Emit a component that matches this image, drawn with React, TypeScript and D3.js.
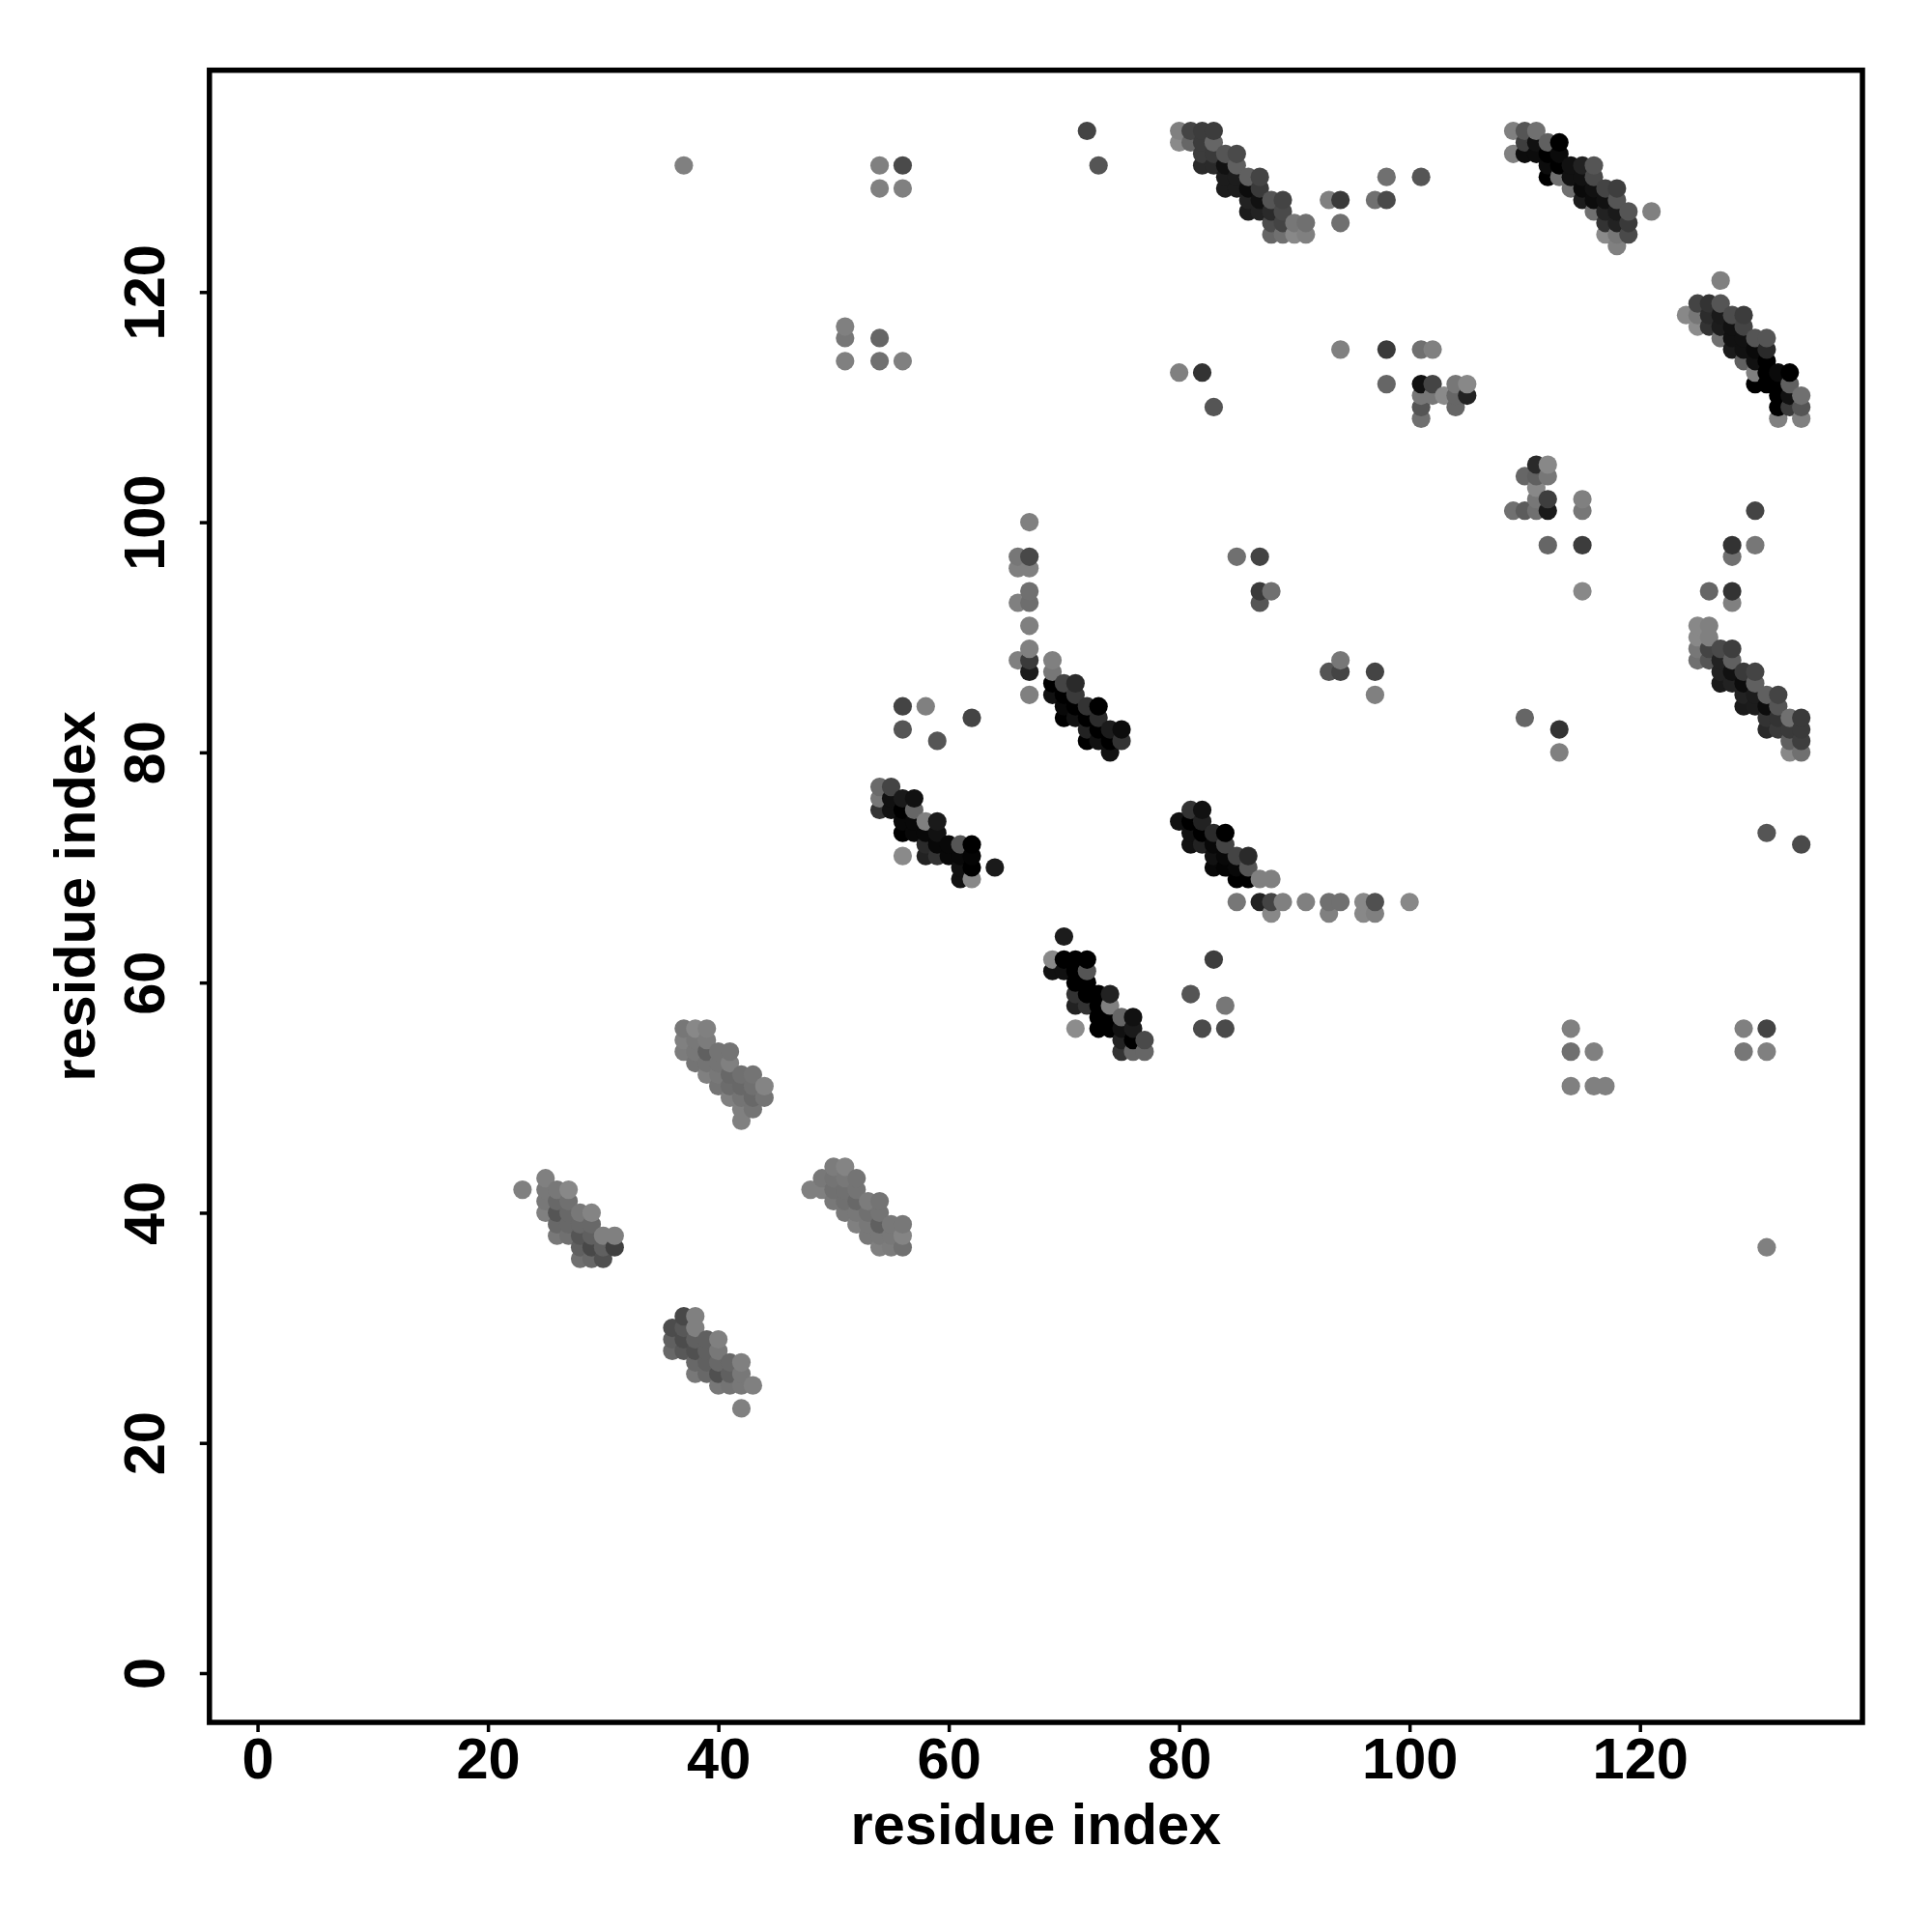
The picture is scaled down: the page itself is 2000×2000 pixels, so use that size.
import React, { useEffect, useRef } from "react";
import * as d3 from "d3";

type P = [number, number, number];
// [residue i, residue j, grey level]
const blockA: P[] = [
[37,56,0x77],[38,56,0x88],[39,56,0x80],[37,55,0x80],[38,55,0x78],[39,55,0x7c],[37,54,0x7c],[38,54,0x78],[39,54,0x60],[40,54,0x74],[41,54,0x74],
[38,53,0x74],[39,53,0x74],[40,53,0x74],[41,53,0x80],[39,52,0x80],[40,52,0x78],[41,52,0x68],[42,52,0x70],[43,52,0x74],[40,51,0x74],[41,51,0x6c],[42,51,0x68],[43,51,0x70],[44,51,0x84],
[41,50,0x80],[42,50,0x74],[43,50,0x68],[44,50,0x74],[42,49,0x80],[43,49,0x74],[42,48,0x80],
];
const blockB: P[] = [
[25,43,0x80],[23,42,0x80],[25,42,0x78],[26,42,0x78],[27,42,0x88],[25,41,0x78],[26,41,0x68],[27,41,0x70],[25,40,0x80],[26,40,0x55],[27,40,0x68],[28,40,0x78],[29,40,0x84],
[26,39,0x68],[27,39,0x68],[28,39,0x68],[29,39,0x68],[26,38,0x78],[27,38,0x70],[28,38,0x55],[29,38,0x60],[30,38,0x80],[31,38,0x80],
[28,37,0x60],[29,37,0x48],[30,37,0x60],[31,37,0x40],[28,36,0x70],[29,36,0x68],[30,36,0x50],
];
const blockC: P[] = [
[50,44,0x7c],[51,44,0x84],[49,43,0x78],[50,43,0x74],[51,43,0x78],[52,43,0x74],[48,42,0x80],[49,42,0x80],[50,42,0x70],[51,42,0x70],[52,42,0x74],
[50,41,0x78],[51,41,0x70],[52,41,0x68],[53,41,0x7c],[54,41,0x74],[51,40,0x78],[52,40,0x78],[53,40,0x70],[54,40,0x74],
[52,39,0x80],[53,39,0x78],[54,39,0x60],[55,39,0x78],[56,39,0x78],[53,38,0x78],[54,38,0x78],[55,38,0x78],[56,38,0x84],[54,37,0x80],[55,37,0x7c],[56,37,0x70],
];
const blockD: P[] = [
[37,31,0x48],[38,31,0x80],[36,30,0x4c],[37,30,0x58],[38,30,0x80],[36,29,0x60],[37,29,0x4c],[38,29,0x60],[39,29,0x60],[40,29,0x80],
[36,28,0x68],[37,28,0x58],[38,28,0x50],[39,28,0x60],[40,28,0x78],[38,27,0x68],[39,27,0x60],[40,27,0x68],[41,27,0x68],[42,27,0x80],
[38,26,0x78],[39,26,0x68],[40,26,0x50],[41,26,0x60],[42,26,0x78],[40,25,0x78],[41,25,0x74],[42,25,0x78],[43,25,0x80],[42,23,0x80],
];
const blockE: P[] = [
[54,77,0x6a],[55,77,0x44],[54,76,0x77],[55,76,0x11],[56,76,0x1a],[57,76,0x11],[54,75,0x33],[55,75,0x11],[56,75,0x00],[57,75,0x66],
[56,74,0x08],[57,74,0x08],[58,74,0x80],[59,74,0x1a],[56,73,0x00],[57,73,0x08],[58,73,0x08],[59,73,0x11],
[58,72,0x2a],[59,72,0x08],[60,72,0x08],[61,72,0x55],[62,72,0x00],[56,71,0x8a],[58,71,0x22],[59,71,0x33],[60,71,0x08],[61,71,0x08],[62,71,0x04],
[61,70,0x11],[62,70,0x00],[64,70,0x1a],[61,69,0x11],[62,69,0x88],
];
const blockF: P[] = [
[81,75,0x33],[82,75,0x11],[80,74,0x11],[81,74,0x00],[82,74,0x22],[81,73,0x11],[82,73,0x00],[83,73,0x2a],[84,73,0x00],[81,72,0x11],[82,72,0x22],[83,72,0x08],[84,72,0x44],
[83,71,0x11],[84,71,0x08],[85,71,0x44],[86,71,0x2a],[83,70,0x08],[84,70,0x04],[85,70,0x08],[86,70,0x55],[85,69,0x00],[86,69,0x00],[87,69,0x80],[88,69,0x80],
[85,67,0x77],[87,67,0x22],[88,67,0x44],[89,67,0x80],[91,67,0x80],[93,67,0x70],[94,67,0x70],[96,67,0x88],[97,67,0x50],[100,67,0x88],[88,66,0x88],[93,66,0x80],[96,66,0x88],[97,66,0x80],
];
const blockG: P[] = [
[70,64,0x1c],[69,62,0x88],[70,62,0x00],[71,62,0x00],[72,62,0x00],[69,61,0x11],[70,61,0x11],[71,61,0x00],[72,61,0x55],[71,60,0x00],[72,60,0x00],
[71,59,0x33],[72,59,0x00],[73,59,0x00],[74,59,0x22],[71,58,0x22],[72,58,0x33],[73,58,0x00],[74,58,0x80],[73,57,0x00],[74,57,0x00],[75,57,0x66],[76,57,0x11],
[71,56,0x8c],[73,56,0x00],[74,56,0x00],[75,56,0x11],[76,56,0x1a],[75,55,0x22],[76,55,0x00],[77,55,0x4a],[75,54,0x33],[76,54,0x66],[77,54,0x66],
[83,62,0x3e],[81,59,0x55],[84,58,0x77],[82,56,0x4a],[84,56,0x4a],
];
const blockH: P[] = [
[67,100,0x80],[66,97,0x77],[67,97,0x48],[66,96,0x80],[67,96,0x80],[67,94,0x70],[66,93,0x80],[67,93,0x6e],[67,91,0x80],[67,89,0x80],[66,88,0x80],[67,88,0x3a],[69,88,0x80],[67,87,0x1c],[69,87,0x77],[67,85,0x80],
[69,86,0x00],[70,86,0x44],[71,86,0x2a],[69,85,0x11],[70,85,0x00],[71,85,0x3a],[70,84,0x08],[71,84,0x00],[72,84,0x33],[73,84,0x00],[70,83,0x00],[71,83,0x11],[72,83,0x00],[73,83,0x2c],
[72,82,0x22],[73,82,0x00],[74,82,0x1c],[75,82,0x0c],[72,81,0x00],[73,81,0x11],[74,81,0x00],[75,81,0x33],[74,80,0x11],
[85,97,0x70],[87,97,0x44],[87,94,0x3a],[88,94,0x70],[87,93,0x55],[56,84,0x44],[58,84,0x80],[56,82,0x55],[59,81,0x55],[62,83,0x44],[93,87,0x55],[94,87,0x44],[94,88,0x77],[97,87,0x44],[97,85,0x80],
];
const blockI: P[] = [
[80,134,0x80],[81,134,0x44],[82,134,0x3c],[83,134,0x3c],[80,133,0x8a],[81,133,0x66],[82,133,0x3c],[83,133,0x66],[82,132,0x3c],[83,132,0x3a],[84,132,0x55],[85,132,0x4a],
[82,131,0x2a],[83,131,0x2a],[84,131,0x11],[85,131,0x60],[84,130,0x1c],[85,130,0x1c],[86,130,0x60],[87,130,0x44],[84,129,0x1c],[85,129,0x1c],[86,129,0x0c],[87,129,0x3a],
[86,128,0x22],[87,128,0x11],[88,128,0x55],[89,128,0x44],[86,127,0x1c],[87,127,0x22],[88,127,0x2a],[89,127,0x4a],[88,126,0x4c],[89,126,0x44],[90,126,0x77],[91,126,0x70],
[88,125,0x66],[89,125,0x70],[90,125,0x88],[91,125,0x80],[93,128,0x80],[94,128,0x3a],[94,126,0x70],[97,128,0x70],[98,128,0x4a],[98,130,0x70],[101,130,0x55],[72,134,0x44],[73,131,0x55],
];
const blockJ: P[] = [
[109,134,0x80],[110,134,0x55],[111,134,0x70],[110,133,0x3e],[111,133,0x11],[112,133,0x60],[113,133,0x00],[109,132,0x80],[110,132,0x0c],[111,132,0x0c],[112,132,0x00],[113,132,0x0a],
[112,131,0x0c],[113,131,0x00],[114,131,0x11],[115,131,0x22],[116,131,0x55],[112,130,0x00],[113,130,0x70],[114,130,0x11],[115,130,0x11],[116,130,0x4a],
[114,129,0x70],[115,129,0x0a],[116,129,0x11],[117,129,0x44],[118,129,0x3e],[115,128,0x1c],[116,128,0x0c],[117,128,0x11],[118,128,0x55],
[116,127,0x70],[117,127,0x22],[118,127,0x1a],[119,127,0x55],[121,127,0x80],[117,126,0x33],[118,126,0x22],[119,126,0x3a],[117,125,0x8a],[118,125,0x77],[119,125,0x4a],[118,124,0x80],
];
const blockK: P[] = [
[127,121,0x80],[125,119,0x44],[126,119,0x33],[127,119,0x55],[124,118,0x88],[125,118,0x77],[126,118,0x2c],[127,118,0x1a],[128,118,0x4c],[129,118,0x3c],
[125,117,0x8c],[126,117,0x33],[127,117,0x1c],[128,117,0x11],[129,117,0x44],[127,116,0x70],[128,116,0x11],[129,116,0x11],[130,116,0x55],[131,116,0x55],
[128,115,0x1a],[129,115,0x11],[130,115,0x0a],[131,115,0x2a],[129,114,0x60],[130,114,0x11],[131,114,0x00],[130,113,0x80],[131,113,0x00],[132,113,0x0a],[133,113,0x00],
[130,112,0x00],[131,112,0x00],[132,112,0x00],[133,112,0x60],[132,111,0x00],[133,111,0x11],[134,111,0x70],[132,110,0x00],[133,110,0x3a],[134,110,0x55],[132,109,0x80],[134,109,0x80],
];
const blockL: P[] = [
[125,91,0x88],[126,91,0x80],[125,90,0x88],[126,90,0x80],[125,89,0x77],[126,89,0x44],[127,89,0x4a],[128,89,0x3e],[125,88,0x70],[126,88,0x55],[127,88,0x22],[128,88,0x60],
[127,87,0x22],[128,87,0x11],[129,87,0x3a],[130,87,0x44],[127,86,0x1a],[128,86,0x22],[129,86,0x0c],[130,86,0x60],[129,85,0x22],[130,85,0x1c],[131,85,0x60],[132,85,0x44],
[129,84,0x1a],[130,84,0x1c],[131,84,0x0c],[132,84,0x55],[131,83,0x33],[132,83,0x33],[133,83,0x70],[134,83,0x3a],[131,82,0x2a],[132,82,0x3a],[133,82,0x3a],[134,82,0x3a],
[133,81,0x60],[134,81,0x3e],[133,80,0x88],[134,80,0x70],[131,73,0x55],[134,72,0x4a],[110,83,0x66],[113,82,0x33],[113,80,0x80],
[130,101,0x44],[128,98,0x33],[130,98,0x77],[128,97,0x70],[126,94,0x66],[128,94,0x33],[128,93,0x80],
];
const blockM: P[] = [
[101,112,0x11],[102,112,0x44],[104,112,0x77],[105,112,0x88],[101,111,0x77],[102,111,0x77],[103,111,0x8a],[104,111,0x66],[105,111,0x22],[101,110,0x55],[104,110,0x66],[101,109,0x70],
[111,105,0x2a],[112,105,0x88],[110,104,0x66],[111,104,0x60],[112,104,0x77],[111,103,0x88],[111,102,0x77],[112,102,0x3e],[115,102,0x80],[109,101,0x70],[110,101,0x5c],[111,101,0x70],[112,101,0x1a],[115,101,0x77],
[112,98,0x66],[115,98,0x3c],[115,94,0x88],[94,115,0x80],[98,115,0x3a],[101,115,0x70],[102,115,0x80],[98,112,0x66],[80,113,0x80],[82,113,0x33],[83,110,0x55],
];
const blockN: P[] = [
[37,131,0x80],[54,131,0x80],[56,131,0x4a],[54,129,0x80],[56,129,0x80],[51,117,0x80],[51,116,0x77],[51,114,0x80],[54,116,0x66],[54,114,0x70],[56,114,0x80],
[114,56,0x80],[114,54,0x70],[116,54,0x80],[114,51,0x80],[116,51,0x80],[117,51,0x80],[129,56,0x80],[131,56,0x44],[129,54,0x77],[131,54,0x80],[131,37,0x80],
];

const allPoints: P[] = [blockA, blockB, blockC, blockD, blockE, blockF, blockG, blockH, blockI, blockJ, blockK, blockL, blockM, blockN].flat();
const xTicks = [0, 20, 40, 60, 80, 100, 120];
const yTicks = [0, 20, 40, 60, 80, 100, 120];
const xTitle = "residue index";
const yTitle = "residue index";

const FONT = "'Liberation Sans', Arial, sans-serif";
const FS = 59.5;

export default function App() {
  const ref = useRef<SVGSVGElement | null>(null);
  useEffect(() => {
    const svg = d3.select(ref.current);
    svg.selectAll("*").remove();
    const L = 216.8, R = 1928, T = 72.7, B = 1783;
    const x = d3.scaleLinear().domain([0, 120]).range([266.6, 1697.7]);
    const y = d3.scaleLinear().domain([0, 120]).range([1732, 302.3]);

    const sorted = [...allPoints].sort((a, b) => a[0] - b[0] || a[1] - b[1]);
    svg.append("g").selectAll("circle").data(sorted).join("circle")
      .attr("cx", d => x(d[0])).attr("cy", d => y(d[1])).attr("r", 9.6)
      .attr("fill", d => d3.rgb(d[2], d[2], d[2]).formatHex());

    svg.append("rect").attr("x", L).attr("y", T).attr("width", R - L).attr("height", B - T)
      .attr("fill", "none").attr("stroke", "#000").attr("stroke-width", 5.5);

    const gx = svg.append("g").attr("transform", `translate(0,${B})`);
    gx.call(d3.axisBottom(x).tickValues(xTicks).tickSize(10).tickPadding(6).tickFormat(d3.format("d")) as any);
    const gy = svg.append("g").attr("transform", `translate(${L},0)`);
    gy.call(d3.axisLeft(y).tickValues(yTicks).tickSize(10).tickPadding(20).tickFormat(d3.format("d")) as any);
    gx.select(".domain").remove();
    gy.select(".domain").remove();
    svg.selectAll(".tick line").attr("stroke", "#000").attr("stroke-width", 3.5);
    svg.selectAll(".tick text").attr("font-family", FONT).attr("font-weight", "bold").attr("font-size", FS).attr("fill", "#000");
    gy.selectAll(".tick text").each(function () {
      d3.select(this).attr("text-anchor", "middle").attr("dy", null).attr("x", null)
        .attr("transform", "translate(-47,0) rotate(-90)");
    });

    svg.append("text").text(xTitle).attr("x", (L + R) / 2).attr("y", 1909).attr("text-anchor", "middle")
      .attr("font-family", FONT).attr("font-weight", "bold").attr("font-size", FS);
    svg.append("text").text(yTitle).attr("transform", `translate(98,${(T + B) / 2}) rotate(-90)`).attr("text-anchor", "middle")
      .attr("font-family", FONT).attr("font-weight", "bold").attr("font-size", FS);
  }, []);
  return <svg ref={ref} width={2000} height={2000} style={{ position: "absolute", left: 0, top: 0, background: "#fff" }} />;
}
